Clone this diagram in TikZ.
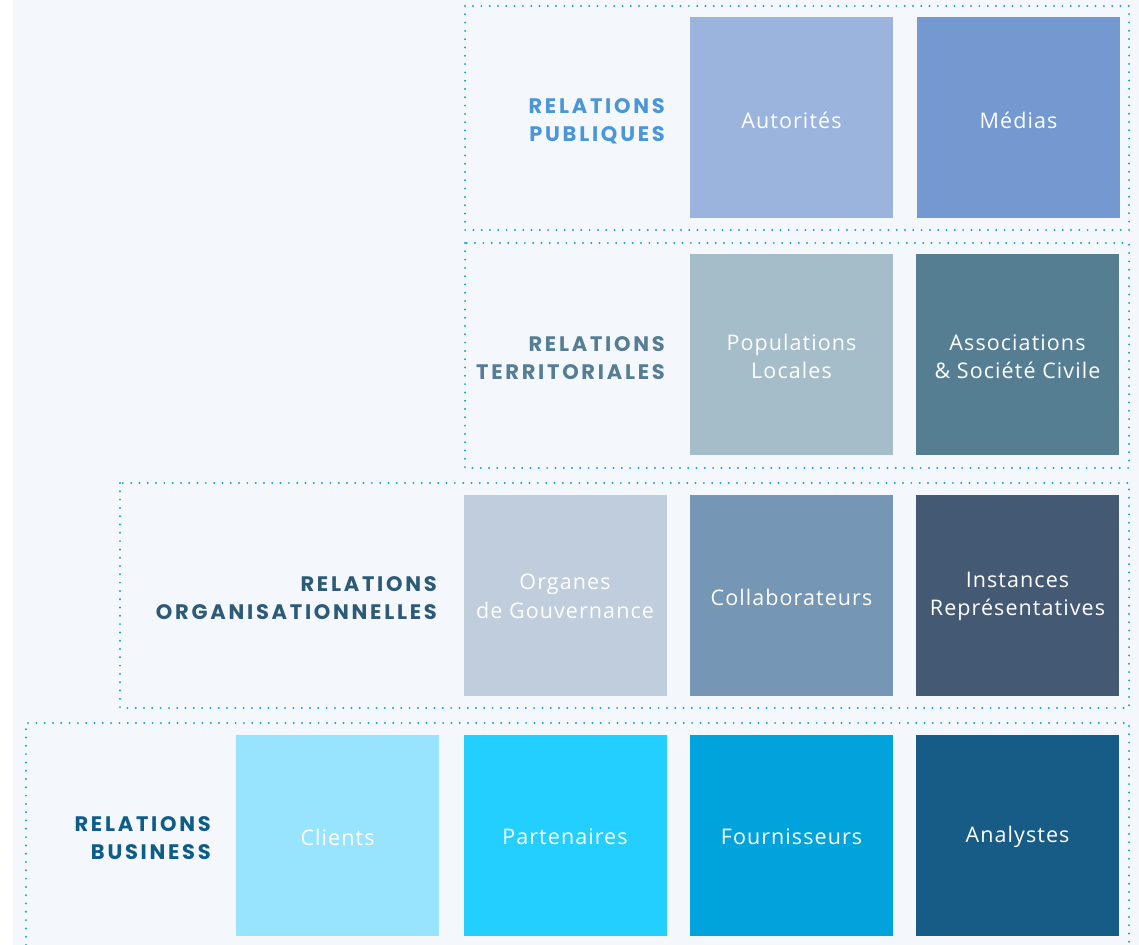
\documentclass[tikz,border=0pt]{standalone}
\usepackage{fontspec}
\setmainfont{Open Sans}[LetterSpace=5]
\newfontfamily\labelfont{Poppins}[LetterSpace=13]
\definecolor{bgc}{HTML}{F4F8FC}
\definecolor{dotc}{HTML}{12A6DD}
\definecolor{cAut}{HTML}{9AB4DE}
\definecolor{cMed}{HTML}{7399D0}
\definecolor{cPop}{HTML}{A5BDC8}
\definecolor{cAss}{HTML}{567E93}
\definecolor{cOrg}{HTML}{BFCDDC}
\definecolor{cCol}{HTML}{7596B4}
\definecolor{cIns}{HTML}{445973}
\definecolor{cCli}{HTML}{98E3FE}
\definecolor{cPar}{HTML}{22CFFE}
\definecolor{cFou}{HTML}{00A3DB}
\definecolor{cAna}{HTML}{175B87}
\definecolor{lPub}{HTML}{4A96D6}
\definecolor{lTer}{HTML}{557E95}
\definecolor{lOrg}{HTML}{2D5A77}
\definecolor{lBus}{HTML}{0E5D89}
\tikzset{
  box/.style={minimum width=203bp, minimum height=201bp, inner sep=0pt},
  boxtext/.style={inner sep=0pt, text=white, align=center,
    font=\fontsize{21.5bp}{28.5bp}\selectfont},
  grouplabel/.style={anchor=east, align=right, inner sep=0pt,
    font=\labelfont\bfseries\fontsize{21bp}{28bp}\selectfont},
  frame/.style={draw=dotc, line width=2.2bp, line cap=round, dash pattern=on 0bp off 8.3bp}
}
\begin{document}
\begin{tikzpicture}[x=1bp,y=-1bp]
\useasboundingbox (0,0) rectangle (1139,945);
\fill[bgc] (13,0) rectangle (1139,945);
% frames
\draw[frame] (465,6) rectangle (1129,230);
\draw[frame] (465,243) rectangle (1129,468);
\draw[frame] (120,483) rectangle (1129,708);
\draw[frame] (26,945) -- (26,723) -- (1129,723) -- (1129,945);
% row 1
\node[box, fill=cAut] (aut) at (791.5,117.5) {};
\node[box, fill=cMed] (med) at (1018.5,117.5) {};
\node[boxtext] (tAut) at ([yshift=-2.5bp]aut.center) {Autorités};
\node[boxtext] (tMed) at ([yshift=-2.5bp]med.center) {Médias};
\node[grouplabel, text=lPub] (lpub) at (665,121) {RELATIONS\\PUBLIQUES};
% row 2
\node[box, fill=cPop] (pop) at (791.5,354.5) {};
\node[box, fill=cAss] (ass) at (1017.5,354.5) {};
\node[boxtext] (tPop) at ([yshift=-2bp]pop.center) {Populations\\Locales};
\node[boxtext] (tAss) at ([yshift=-2bp]ass.center) {Associations\\\& Société Civile};
\node[grouplabel, text=lTer] (lter) at (665,358) {RELATIONS\\TERRITORIALES};
% row 3
\node[box, fill=cOrg] (org) at (565,595) {};
\node[box, fill=cCol] (col) at (791.5,595) {};
\node[box, fill=cIns] (ins) at (1017.5,595) {};
\node[boxtext] (tOrg) at ([yshift=-1.5bp]org.center) {Organes\\de Gouvernance};
\node[boxtext] (tCol) at ([yshift=-2bp]col.center) {Collaborateurs};
\node[boxtext] (tIns) at ([yshift=-1.5bp]ins.center) {Instances\\Représentatives};
\node[grouplabel, text=lOrg] (lorg) at (437,598) {RELATIONS\\ORGANISATIONNELLES};
% row 4
\node[box, fill=cCli] (cli) at (337.5,835) {};
\node[box, fill=cPar] (par) at (565,835) {};
\node[box, fill=cFou] (fou) at (791.5,835) {};
\node[box, fill=cAna] (ana) at (1017.5,835) {};
\node[boxtext] (tCli) at ([yshift=-2bp]cli.center) {Clients};
\node[boxtext] (tPar) at ([yshift=-2bp]par.center) {Partenaires};
\node[boxtext] (tFou) at ([yshift=-2bp]fou.center) {Fournisseurs};
\node[boxtext] (tAna) at ([yshift=-2bp]ana.center) {Analystes};
\node[grouplabel, text=lBus] (lbus) at (211,838) {RELATIONS\\BUSINESS};
\end{tikzpicture}
\end{document}
